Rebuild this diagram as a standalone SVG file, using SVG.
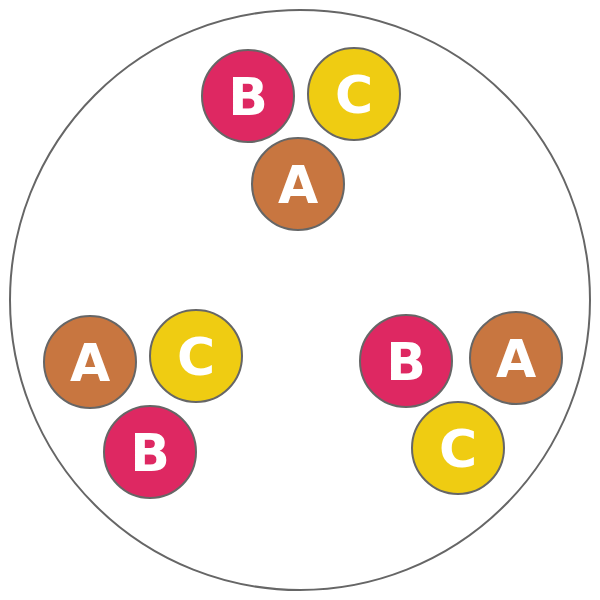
<svg xmlns="http://www.w3.org/2000/svg" width="600" height="600" viewBox="0 0 600 600">
<style>
.n{stroke:#666;stroke-width:2}
.a{fill:#c87640}
.b{fill:#de2862}
.c{fill:#efcc12}
text{font-family:"DejaVu Sans",sans-serif;font-weight:bold;font-size:52px;fill:#fff;text-anchor:middle}
</style>
<circle cx="300" cy="300" r="290" fill="none" stroke="#666" stroke-width="2"/>
<g id="top-B"><circle class="n b" cx="248" cy="96" r="46"/><text x="248" y="115">B</text></g>
<g id="top-C"><circle class="n c" cx="354" cy="94" r="46"/><text x="354" y="113">C</text></g>
<g id="top-A"><circle class="n a" cx="298" cy="184" r="46"/><text x="298" y="203">A</text></g>
<g id="left-A"><circle class="n a" cx="90" cy="362" r="46"/><text x="90" y="381">A</text></g>
<g id="left-C"><circle class="n c" cx="196" cy="356" r="46"/><text x="196" y="375">C</text></g>
<g id="left-B"><circle class="n b" cx="150" cy="452" r="46"/><text x="150" y="471">B</text></g>
<g id="right-B"><circle class="n b" cx="406" cy="361" r="46"/><text x="406" y="380">B</text></g>
<g id="right-A"><circle class="n a" cx="516" cy="358" r="46"/><text x="516" y="377">A</text></g>
<g id="right-C"><circle class="n c" cx="458" cy="448" r="46"/><text x="458" y="467">C</text></g>
<g id="connectors"></g>
</svg>
